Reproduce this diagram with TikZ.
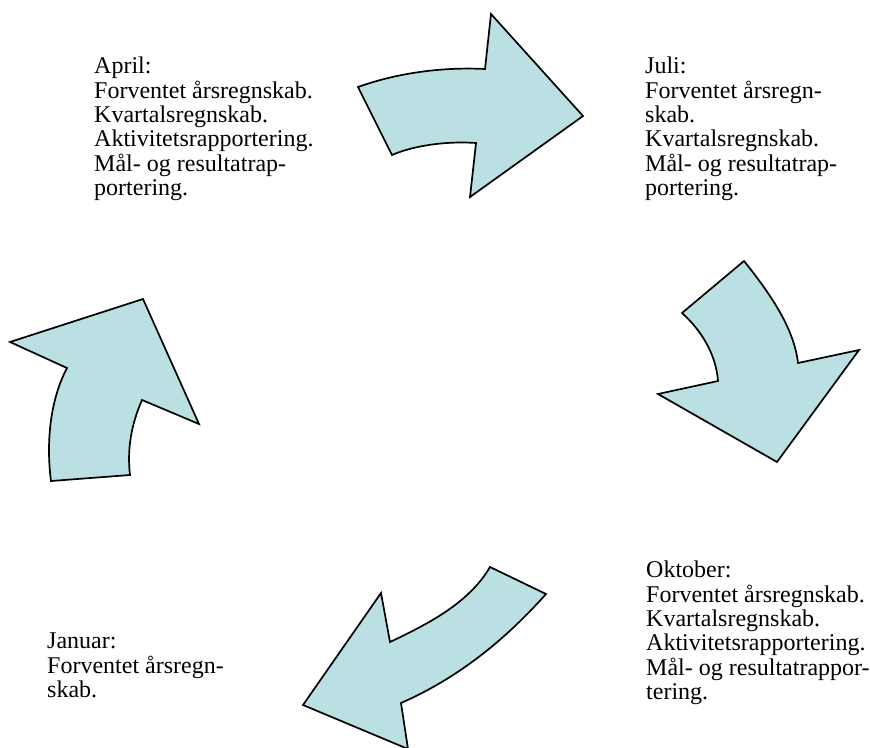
\documentclass[tikz,border=0pt]{standalone}
\usepackage{fontspec}
\setmainfont{Liberation Serif}
\definecolor{arrowfill}{RGB}{187,224,227}
\begin{document}
\begin{tikzpicture}[x=1bp,y=-1bp,
  arrowshape/.style={draw=black, fill=arrowfill, line width=1.7bp, line join=miter},
  lbl/.style={anchor=north west, inner sep=0pt, align=left, font=\fontsize{24bp}{24.3bp}\selectfont}]
\path[use as bounding box] (0,0) rectangle (870,748);
\clip (0,0) rectangle (870,748);
\fill[white] (0,0) rectangle (870,748);

% top arrow (April -> Juli)
\path[arrowshape] (358,87) .. controls (400,72) and (445,67) .. (485,69)
  -- (491,14) -- (583,116) -- (470,197) -- (476,143)
  .. controls (448,141) and (415,145) .. (392,155) -- cycle;

% right arrow (Juli -> Oktober)
\path[arrowshape] (744,261) -- (682,313)
  .. controls (701,330) and (716,354) .. (718,381)
  -- (658,394) -- (777,462) -- (859,350) -- (798,363)
  .. controls (794,327) and (768,291) .. cycle;

% bottom arrow (Oktober -> Januar)
\path[arrowshape] (490,567) -- (546,594)
  .. controls (505,640) and (458,678) .. (401,703)
  -- (408,749) -- (303,705) -- (381,593) -- (390,642)
  .. controls (428,624) and (469,603) .. cycle;

% left arrow (Januar -> April)
\path[arrowshape] (51,481) -- (130,475)
  .. controls (127,450) and (131,425) .. (142,400)
  -- (199,424) -- (143,299) -- (10,342) -- (67,368)
  .. controls (50,400) and (46,443) .. cycle;

\node[lbl] (april) at (94,57) {April:\\Forventet årsregnskab.\\Kvartalsregnskab.\\Aktivitetsrapportering.\\Mål- og resultatrap-\\portering.};
\node[lbl] (juli) at (645,57) {Juli:\\Forventet årsregn-\\skab.\\Kvartalsregnskab.\\Mål- og resultatrap-\\portering.};
\node[lbl] (oktober) at (646,561) {Oktober:\\Forventet årsregnskab.\\Kvartalsregnskab.\\Aktivitetsrapportering.\\Mål- og resultatrappor-\\tering.};
\node[lbl] (januar) at (47,633) {Januar:\\Forventet årsregn-\\skab.};
\end{tikzpicture}
\end{document}
